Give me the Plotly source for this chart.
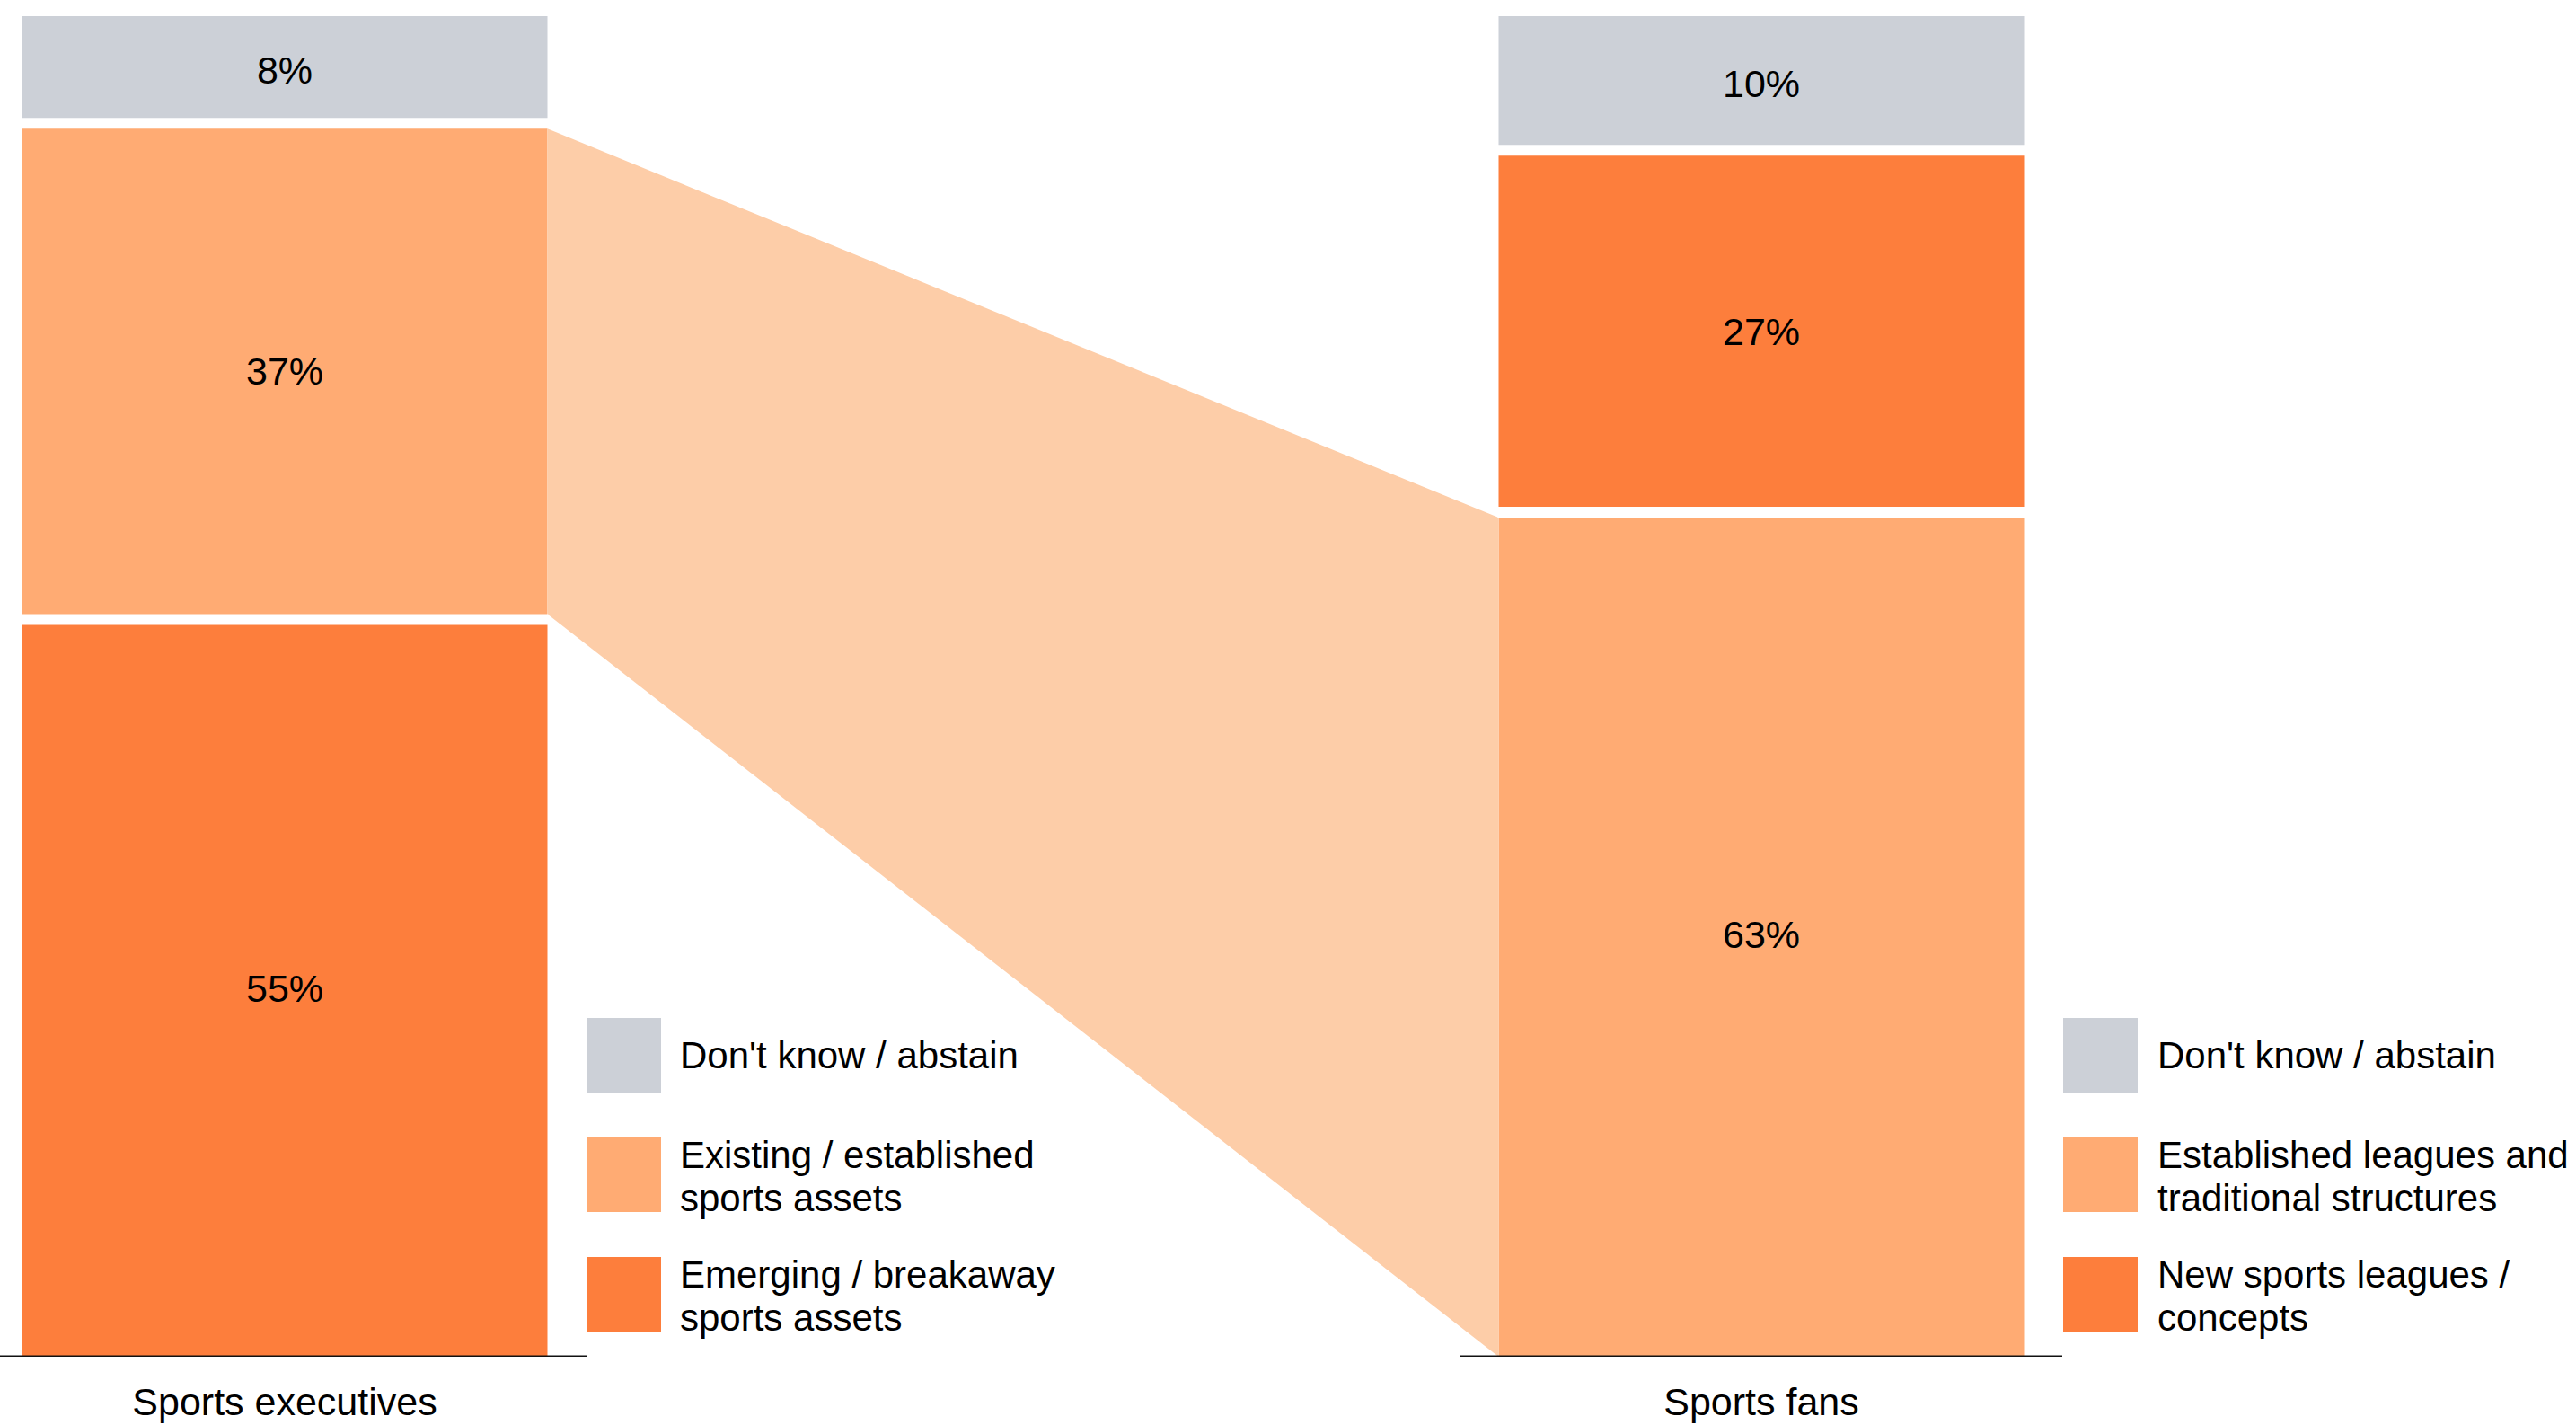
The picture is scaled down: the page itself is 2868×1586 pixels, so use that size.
import plotly.graph_objects as go
import numpy as np

# ---------------- data ----------------
groups = ["Sports executives", "Sports fans"]

exec_cats = ["Emerging / breakaway sports assets",
             "Existing / established sports assets",
             "Don't know / abstain"]            # bottom -> top
exec_vals = [55, 37, 8]

fans_cats = ["Established leagues and traditional structures",
             "New sports leagues / concepts",
             "Don't know / abstain"]            # bottom -> top
fans_vals = [63, 27, 10]

exec_legend = ["Don't know / abstain",
               "Existing / established\nsports assets",
               "Emerging / breakaway\nsports assets"]
exec_legend_cats = ["Don't know / abstain",
                    "Existing / established sports assets",
                    "Emerging / breakaway sports assets"]
fans_legend = ["Don't know / abstain",
               "Established leagues and\ntraditional structures",
               "New sports leagues /\nconcepts"]
fans_legend_cats = ["Don't know / abstain",
                    "Established leagues and traditional structures",
                    "New sports leagues / concepts"]

# ---------------- styles ----------------
GRAY = "#CCD0D7"
LIGHT = "#FFAB73"
DARK = "#FD7E3C"
BAND = "#FDCDA8"
color_map = {
    "Don't know / abstain": GRAY,
    "Existing / established sports assets": LIGHT,
    "Emerging / breakaway sports assets": DARK,
    "Established leagues and traditional structures": LIGHT,
    "New sports leagues / concepts": DARK,
}
FONT = "Liberation Sans, Arial, Helvetica, sans-serif"

W, H = 2868, 1586
BASE_PX, TOP_PX = 1510, 18
PX_PER = (BASE_PX - TOP_PX) / 100.0


def ypx(p):
    return (BASE_PX - p) / PX_PER


centers = [317, 1961]
bar_w = 585
gap = 12 / PX_PER

fig = go.Figure()

cats_all = [exec_cats, fans_cats]
vals_all = [exec_vals, fans_vals]
cums = [np.concatenate([[0], np.cumsum(v)]) for v in vals_all]


def seg_edges(gi, i):
    n = len(vals_all[gi])
    c = cums[gi]
    lo = c[i] + (gap / 2 if i > 0 else 0)
    hi = c[i + 1] - (gap / 2 if i < n - 1 else 0)
    return lo, hi


# connecting band between the two "established" segments
i_ex = exec_cats.index("Existing / established sports assets")
i_fa = fans_cats.index("Established leagues and traditional structures")
lx = centers[0] + bar_w / 2
rx = centers[1] - bar_w / 2
l_lo, l_hi = seg_edges(0, i_ex)
r_lo, r_hi = seg_edges(1, i_fa)
fig.add_trace(go.Scatter(
    x=[lx, rx, rx, lx, lx], y=[l_hi, r_hi, r_lo, l_lo, l_hi],
    mode="lines", fill="toself", fillcolor=BAND,
    line=dict(width=0, color=BAND), hoverinfo="skip", showlegend=False))

# stacked bars
for gi in range(2):
    for i, (cat, v) in enumerate(zip(cats_all[gi], vals_all[gi])):
        fig.add_trace(go.Bar(
            x=[centers[gi]], y=[v], base=[cums[gi][i]], width=bar_w,
            marker=dict(color=color_map[cat], line=dict(width=0)),
            text=[f"{v}%"], textposition="inside", insidetextanchor="middle",
            textangle=0, constraintext="none",
            textfont=dict(family=FONT, size=43, color="#000000"),
            name=cat, showlegend=False,
            hovertemplate=f"{groups[gi]}<br>{cat}: {v}%<extra></extra>"))

shapes = []
# white separators between segments
for gi in range(2):
    for b in cums[gi][1:-1]:
        shapes.append(dict(type="line", xref="x", yref="y",
                           x0=centers[gi] - bar_w / 2 - 1, x1=centers[gi] + bar_w / 2 + 1,
                           y0=b, y1=b, line=dict(color="white", width=12), layer="above"))
# baselines
for x0, x1 in [(0, 653), (1626, 2296)]:
    shapes.append(dict(type="line", xref="x", yref="y", x0=x0, x1=x1, y0=0, y1=0,
                       line=dict(color="#111111", width=3), layer="above"))

annotations = []
# legends
legend_specs = [
    (exec_legend, exec_legend_cats, 653, 736, 755),
    (fans_legend, fans_legend_cats, 2297, 2380, 2400),
]
sw_tops = [1133, 1266, 1399]
sw_h = 83
for labels, lcats, sx0, sx1, tx in legend_specs:
    for k, (lab, cat) in enumerate(zip(labels, lcats)):
        top = sw_tops[k]
        shapes.append(dict(type="rect", xref="x", yref="y", x0=sx0, x1=sx1,
                           y0=ypx(top + sw_h), y1=ypx(top),
                           fillcolor=color_map[cat], line=dict(width=0)))
        lines = lab.split("\n")
        if len(lines) == 1:
            centers_px = [top + sw_h / 2]
        else:
            centers_px = [top + 19, top + 67]
        for ln, cy in zip(lines, centers_px):
            annotations.append(dict(text=ln, xref="x", yref="y", x=tx, y=ypx(cy),
                                    xanchor="left", yanchor="middle", showarrow=False,
                                    font=dict(family=FONT, size=42, color="#000000")))

fig.update_layout(
    width=W, height=H, margin=dict(l=0, r=0, t=0, b=H - BASE_PX),
    paper_bgcolor="white", plot_bgcolor="white", barmode="overlay",
    shapes=shapes, annotations=annotations, showlegend=False,
    xaxis=dict(range=[0, W], showgrid=False, zeroline=False, showline=False,
               tickmode="array", tickvals=centers, ticktext=groups,
               ticks="outside", ticklen=12, tickcolor="rgba(0,0,0,0)",
               tickfont=dict(family=FONT, size=43, color="#000000"),
               automargin=False, fixedrange=True),
    yaxis=dict(range=[0, ypx(0)], visible=False, fixedrange=True),
)

fig.write_html("out.html")
